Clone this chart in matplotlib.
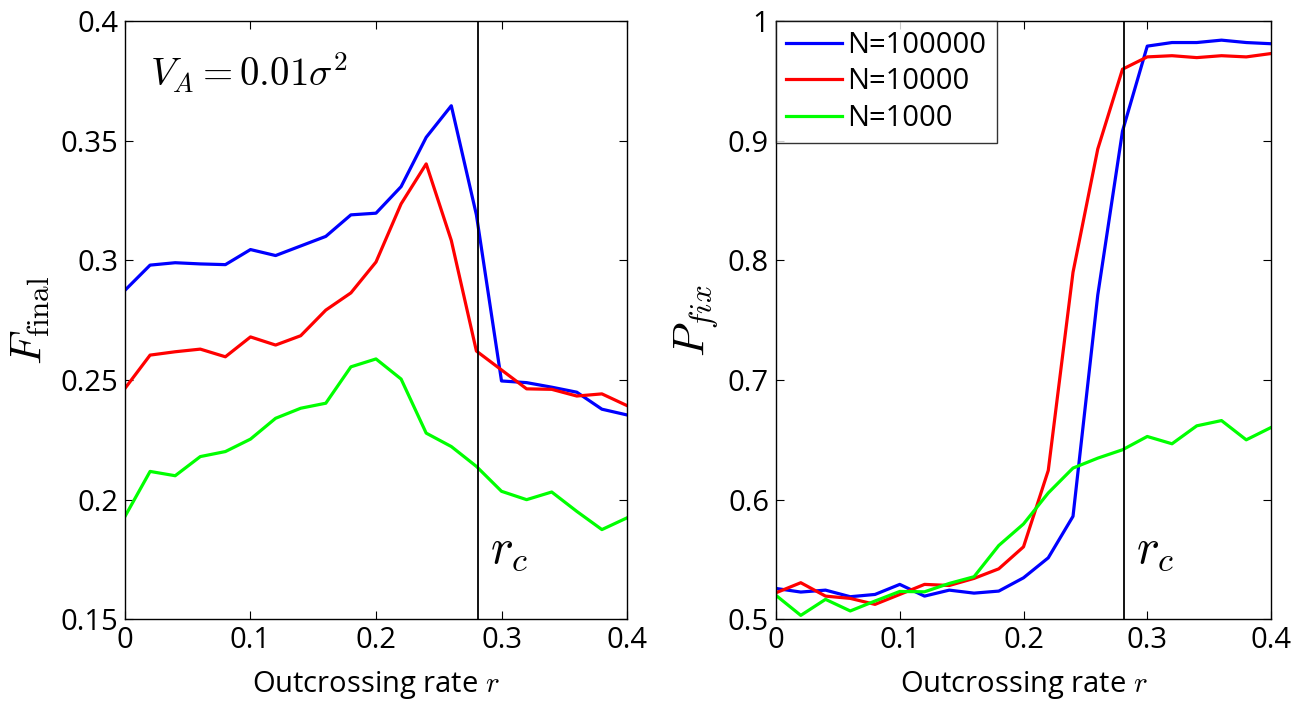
import numpy as np
import matplotlib
matplotlib.use("Agg")
import matplotlib.pyplot as plt

plt.rcParams["font.family"] = ["Open Sans", "DejaVu Sans"]
plt.rcParams["mathtext.fontset"] = "cm"

r = np.round(np.arange(0, 0.401, 0.02), 2)
r_crit = 0.281

# left panel: F_final
f_n100000 = [0.2875, 0.298, 0.299, 0.2985, 0.2982, 0.3045, 0.302, 0.306, 0.310, 0.319, 0.3197,
             0.3308, 0.3514, 0.3646, 0.319, 0.2496, 0.2489, 0.247, 0.2449, 0.2378, 0.2354]
f_n10000 = [0.2465, 0.2604, 0.2618, 0.2629, 0.2597, 0.268, 0.2646, 0.2685, 0.2792, 0.2864, 0.2993,
            0.3236, 0.3403, 0.3083, 0.2621, 0.2542, 0.2463, 0.2461, 0.2433, 0.2442, 0.2393]
f_n1000 = [0.193, 0.2118, 0.210, 0.218, 0.2201, 0.2253, 0.234, 0.2382, 0.2403, 0.2555, 0.2588,
           0.2504, 0.2278, 0.2222, 0.2139, 0.2035, 0.200, 0.2032, 0.1951, 0.1875, 0.1924]

# right panel: P_fix
p_n100000 = [0.5258, 0.5228, 0.5244, 0.5189, 0.5208, 0.5292, 0.5194, 0.5244, 0.5219, 0.5236, 0.5347,
             0.5514, 0.5861, 0.771, 0.908, 0.979, 0.982, 0.982, 0.984, 0.982, 0.981]
p_n10000 = [0.5222, 0.5306, 0.5194, 0.5175, 0.5125, 0.5208, 0.5292, 0.5283, 0.5342, 0.5422, 0.5606,
            0.6244, 0.790, 0.893, 0.9597, 0.970, 0.971, 0.9694, 0.971, 0.970, 0.9728]
p_n1000 = [0.520, 0.5033, 0.5167, 0.507, 0.5153, 0.5233, 0.523, 0.530, 0.5356, 0.5617, 0.5797,
           0.6056, 0.6264, 0.6347, 0.6417, 0.6528, 0.6467, 0.6617, 0.6661, 0.650, 0.6603]

labels = ["N=100000", "N=10000", "N=1000"]
colors = ["#0000ff", "#ff0000", "#00ff00"]

fig = plt.figure(figsize=(13.06, 7.07), dpi=100)
ax1 = fig.add_axes([0.0957, 0.124, 0.3844, 0.8463])
ax2 = fig.add_axes([0.5942, 0.124, 0.379, 0.8463])

for ys, c, lab in zip([f_n100000, f_n10000, f_n1000], colors, labels):
    ax1.plot(r, ys, color=c, lw=2.3, label=lab)
for ys, c, lab in zip([p_n100000, p_n10000, p_n1000], colors, labels):
    ax2.plot(r, ys, color=c, lw=2.3, label=lab)

for ax in (ax1, ax2):
    ax.axvline(r_crit, color="black", lw=1.3)
    ax.set_xlim(0, 0.4)
    ax.set_xticks([0, 0.1, 0.2, 0.3, 0.4])
    ax.set_xticklabels(["0", "0.1", "0.2", "0.3", "0.4"])
    ax.tick_params(direction="in", length=6, width=0.8, labelsize=21, top=True, right=True, pad=5)
    ax.set_xlabel(r"Outcrossing rate $r$", fontsize=21, labelpad=10)
    for s in ax.spines.values():
        s.set_linewidth(1.0)

ax1.set_ylim(0.15, 0.4)
ax1.set_yticks([0.15, 0.2, 0.25, 0.3, 0.35, 0.4])
ax1.set_yticklabels(["0.15", "0.2", "0.25", "0.3", "0.35", "0.4"])
ax1.set_ylabel(r"$F_{\mathrm{final}}$", fontsize=32, labelpad=6)
ax1.text(0.02, 0.378, r"$V_A = 0.01\sigma^2$", fontsize=28, va="center")
ax1.text(0.2905, 0.179, r"$r_c$", fontsize=35, va="center")

ax2.set_ylim(0.5, 1.0)
ax2.set_yticks([0.5, 0.6, 0.7, 0.8, 0.9, 1.0])
ax2.set_yticklabels(["0.5", "0.6", "0.7", "0.8", "0.9", "1"])
ax2.set_ylabel(r"$P_{fix}$", fontsize=32, labelpad=6)
ax2.text(0.2905, 0.558, r"$r_c$", fontsize=35, va="center")

leg = ax2.legend(loc="upper left", fontsize=21, frameon=True, fancybox=False,
                 edgecolor="black", borderaxespad=0, handlelength=1.9,
                 handletextpad=0.2, labelspacing=0.25, borderpad=0.35)
leg.get_frame().set_linewidth(1.0)

fig.savefig("out.png", dpi=100)
